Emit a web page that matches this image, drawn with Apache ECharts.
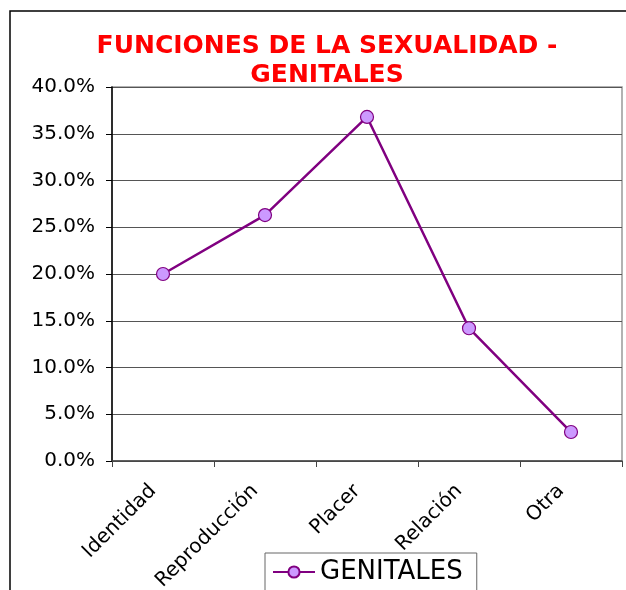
<!DOCTYPE html>
<html>
<head>
<meta charset="utf-8">
<script src="https://cdn.jsdelivr.net/npm/echarts@6/dist/echarts.min.js"></script>
<style>
  html, body { margin: 0; padding: 0; background: #fff; }
  #chart { width: 626px; height: 590px; }
</style>
</head>
<body>
<div id="chart"></div>
<script>
const categories = ['Identidad', 'Reproducción', 'Placer', 'Relación', 'Otra']
const genitales = [20.0, 26.3, 36.8, 14.2, 3.1]
const seriesName = 'GENITALES'
const titleText = 'FUNCIONES DE LA SEXUALIDAD -\nGENITALES'

const font = 'DejaVu Sans'
const chart = echarts.init(document.getElementById('chart'))

chart.setOption({
  animation: false,
  backgroundColor: '#fff',
  title: {
    text: titleText,
    left: 322,
    top: 27,
    textAlign: 'center',
    textStyle: {
      color: '#ff0000',
      fontFamily: font,
      fontWeight: 'bold',
      fontSize: 25,
      lineHeight: 29
    }
  },
  // chart frame, only left and top edges are visible
  graphic: [{
    type: 'rect',
    shape: { x: 10, y: 11, width: 800, height: 800 },
    style: { fill: null, stroke: '#000', lineWidth: 1.5 },
    silent: true
  }],
  legend: {
    left: 265,
    top: 553,
    orient: 'horizontal',
    padding: [6, 14, 30, 7],
    borderColor: '#666',
    borderWidth: 1,
    itemWidth: 42,
    itemHeight: 14,
    itemGap: 7,
    textStyle: { fontFamily: font, fontSize: 26, color: '#000' },
    data: [seriesName]
  },
  grid: {
    left: 112,
    top: 87,
    right: 4,
    bottom: 129,
    outerBoundsMode: 'none',
    show: true,
    borderColor: '#999',
    borderWidth: 1.5
  },
  xAxis: {
    type: 'category',
    data: categories,
    boundaryGap: true,
    axisLine: { lineStyle: { color: '#444', width: 1.5 } },
    axisTick: { show: true, inside: false, length: 6, lineStyle: { color: '#444' } },
    axisLabel: {
      rotate: 45,
      margin: 17,
      padding: [0, 14, 0, 0],
      color: '#000',
      fontFamily: font,
      fontSize: 20
    }
  },
  yAxis: {
    type: 'value',
    min: 0,
    max: 40,
    interval: 5,
    axisLine: { show: true, lineStyle: { color: '#000', width: 1.5 } },
    axisTick: { show: true, length: 6, lineStyle: { color: '#000' } },
    splitLine: { lineStyle: { color: '#555', width: 1.2 } },
    axisLabel: {
      margin: 17,
      color: '#000',
      fontFamily: font,
      fontSize: 20,
      formatter: v => v.toFixed(1) + '%'
    }
  },
  series: [{
    name: seriesName,
    type: 'line',
    data: genitales,
    symbol: 'circle',
    symbolSize: 13,
    lineStyle: { color: '#800080', width: 2.5 },
    itemStyle: { color: '#cc99ff', borderColor: '#800080', borderWidth: 1.2 }
  }]
})
</script>
</body>
</html>
